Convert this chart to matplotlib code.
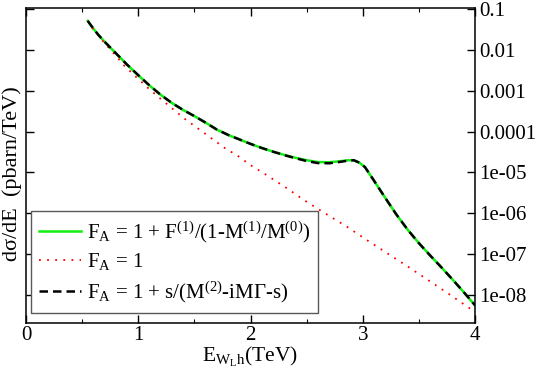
import matplotlib
matplotlib.use("Agg")
import matplotlib.pyplot as plt
import numpy as np

plt.rcParams['font.family'] = ['Liberation Serif', 'DejaVu Serif']
plt.rcParams['mathtext.fontset'] = 'custom'
plt.rcParams['mathtext.rm'] = 'Liberation Serif'
plt.rcParams['mathtext.it'] = 'Liberation Serif:italic'

# E_{W_L h} in TeV, and log10 of dsigma/dE (pbarn/TeV)
full_x = [0.55, 0.60, 0.65, 0.70, 0.80, 0.90, 1.00, 1.10, 1.20, 1.30, 1.40, 1.50,
          1.60, 1.70, 1.80, 1.90, 2.00, 2.10, 2.20, 2.30, 2.40, 2.50, 2.60, 2.70,
          2.80, 2.87, 2.92, 2.97, 3.02, 3.10, 3.20, 3.30, 3.40, 3.50, 3.60, 3.70,
          3.80, 3.90, 4.00]
full_log = [-1.29, -1.48, -1.65, -1.80, -2.08, -2.36, -2.62, -2.87, -3.10, -3.30,
            -3.47, -3.62, -3.78, -3.95, -4.08, -4.19, -4.30, -4.40, -4.49, -4.57,
            -4.64, -4.70, -4.745, -4.75, -4.725, -4.70, -4.70, -4.76, -4.87, -5.20,
            -5.62, -6.03, -6.40, -6.73, -7.03, -7.32, -7.62, -7.93, -8.25]

tree_x = [0.55, 0.60, 0.69, 0.78, 0.88, 0.98, 1.09, 1.20, 1.31, 1.42, 1.54, 1.65,
          1.77, 1.89, 2.00, 2.13, 2.31, 2.49, 2.67, 2.86, 3.04, 3.22, 3.40, 3.58,
          3.76, 3.94, 4.00]
tree_log = [-1.29, -1.49, -1.80, -2.08, -2.40, -2.66, -2.94, -3.20, -3.45, -3.70,
            -3.94, -4.16, -4.40, -4.60, -4.82, -5.04, -5.36, -5.70, -6.01, -6.33,
            -6.66, -6.98, -7.30, -7.63, -7.96, -8.30, -8.42]

bw_x = full_x
bw_log = [-1.29, -1.48, -1.65, -1.80, -2.08, -2.36, -2.62, -2.87, -3.10, -3.30,
          -3.47, -3.62, -3.78, -3.95, -4.08, -4.19, -4.30, -4.40, -4.49, -4.575,
          -4.65, -4.72, -4.77, -4.775, -4.74, -4.71, -4.70, -4.76, -4.87, -5.20,
          -5.62, -6.03, -6.40, -6.73, -7.03, -7.32, -7.62, -7.93, -8.25]

labels = [r'F$_\mathrm{A}$ = 1 + F$^{(1)}$/(1-M$^{(1)}$/M$^{(0)}$)',
          r'F$_\mathrm{A}$ = 1',
          r'F$_\mathrm{A}$ = 1 + s/(M$^{(2)}$-iMΓ-s)']

yticks = [1e-1, 1e-2, 1e-3, 1e-4, 1e-5, 1e-6, 1e-7, 1e-8]
ytick_labels = ['0.1', '0.01', '0.001', '0.0001', '1e-05', '1e-06', '1e-07', '1e-08']

fig = plt.figure(figsize=(5.4, 3.79), dpi=100)
ax = fig.add_axes([26 / 540, 1 - 323 / 379, 449 / 540, 315 / 379])

ax.plot(full_x, 10 ** np.array(full_log), color='#11ee11', lw=1.8, label=labels[0])
ax.plot(tree_x, 10 ** np.array(tree_log), color='red', lw=1.3,
        linestyle=(0, (1, 3.5)), label=labels[1])
ax.plot(bw_x, 10 ** np.array(bw_log), color='black', lw=1.8,
        linestyle=(0, (3.4, 2.0)), label=labels[2])

ax.set_yscale('log')
ax.set_xlim(0, 4)
ax.set_ylim(2.07e-9, 0.106)
ax.set_xticks([0, 1, 2, 3, 4])
ax.set_xticks([0.5, 1.5, 2.5, 3.5], minor=True)
ax.set_yticks(yticks, ytick_labels)

ax.tick_params(which='both', direction='in', top=True, bottom=True, left=True,
               right=True, labelleft=False, labelright=True, labelsize=15)
ax.tick_params(which='major', length=6, width=1)
ax.tick_params(which='minor', length=3, width=0.8)
ax.tick_params(axis='x', pad=2)
ax.tick_params(axis='y', pad=3)
for s in ax.spines.values():
    s.set_linewidth(1.1)

ax.set_xlabel(r'E$_{\mathrm{W_L h}}$(TeV)', fontsize=15.5)
ax.set_ylabel('dσ/dE  (pbarn/TeV)', fontsize=16)
ax.xaxis.set_label_coords(0.5, -0.07)
ax.yaxis.set_label_coords(-0.009, 0.475)

leg = ax.legend(loc='upper left', bbox_to_anchor=(0.0105, 0.3565), borderaxespad=0,
                fontsize=15, fancybox=False, framealpha=1, edgecolor='0.35',
                handlelength=2.0, handletextpad=0.28, borderpad=0.4,
                labelspacing=0.33)
leg.get_frame().set_linewidth(1.0)

fig.savefig('out.png', dpi=100)
